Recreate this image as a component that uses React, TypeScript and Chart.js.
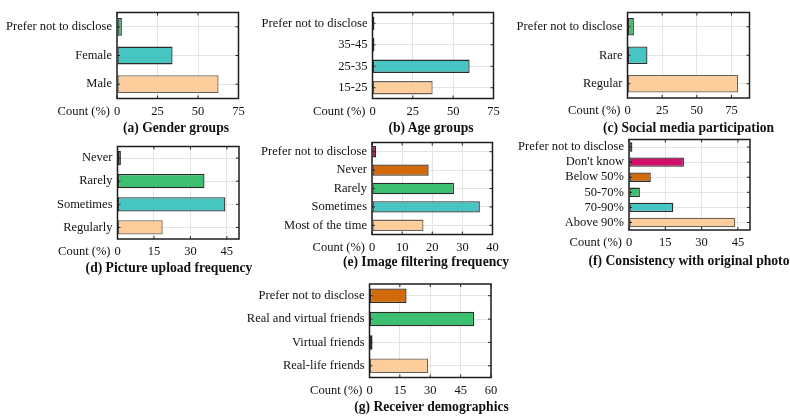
import React, { useEffect, useRef } from 'react';
import { Chart, registerables } from 'chart.js';

Chart.register(...registerables);

// ---------- data ----------
const countLabel = 'Count (%)';

const genderLabels = ['Prefer not to disclose', 'Female', 'Male'];
const genderValues = [3.0, 34.3, 62.7];
const genderTicks = [0, 25, 50, 75];
const genderMax = 75;

const ageLabels = ['Prefer not to disclose', '35-45', '25-35', '15-25'];
const ageValues = [1.2, 1.2, 60.2, 37.3];
const ageTicks = [0, 25, 50, 75];
const ageMax = 75;

const socialLabels = ['Prefer not to disclose', 'Rare', 'Regular'];
const socialValues = [4.6, 14.4, 79.8];
const socialTicks = [0, 25, 50, 75];
const socialMax = 88;

const uploadLabels = ['Never', 'Rarely', 'Sometimes', 'Regularly'];
const uploadValues = [1.4, 35.8, 44.4, 18.6];
const uploadTicks = [0, 15, 30, 45];
const uploadMax = 50;

const filterLabels = ['Prefer not to disclose', 'Never', 'Rarely', 'Sometimes', 'Most of the time'];
const filterValues = [1.4, 18.8, 27.2, 35.8, 17.1];
const filterTicks = [0, 10, 20, 30, 40];
const filterMax = 40;

const consistLabels = ['Prefer not to disclose', "Don't know", 'Below 50%', '50-70%', '70-90%', 'Above 90%'];
const consistValues = [1.4, 22.7, 9.0, 4.5, 18.3, 43.9];
const consistTicks = [0, 15, 30, 45];
const consistMax = 50;

const receiverLabels = ['Prefer not to disclose', 'Real and virtual friends', 'Virtual friends', 'Real-life friends'];
const receiverValues = [18.3, 51.7, 1.5, 29.0];
const receiverTicks = [0, 15, 30, 45, 60];
const receiverMax = 60;

// ---------- styles ----------
const PEACH = '#FDCD9B';
const TEAL = '#46C5C3';
const GREEN = '#3CC06F';
const ORANGE = '#D06A0B';
const MAGENTA = '#D0106B';

const FONT = '"Liberation Serif", "Times New Roman", serif';
const TICK_SIZE = 12.5;

type PanelDef = {
  title: string;
  labels: string[];
  values: number[];
  ticks: number[];
  max: number;
  colors: string[];
  rect: { l: number; t: number; r: number; b: number };
  titlePos: { x: number; y: number };
};

const panels: PanelDef[] = [
  {
    title: '(a) Gender groups', labels: genderLabels, values: genderValues, ticks: genderTicks, max: genderMax,
    colors: [GREEN, TEAL, PEACH],
    rect: { l: 117, t: 5, r: 238.5, b: 98.5 }, titlePos: { x: 176, y: 128 },
  },
  {
    title: '(b) Age groups', labels: ageLabels, values: ageValues, ticks: ageTicks, max: ageMax,
    colors: [ORANGE, GREEN, TEAL, PEACH],
    rect: { l: 372.5, t: 5, r: 493.5, b: 98.5 }, titlePos: { x: 431, y: 128 },
  },
  {
    title: '(c) Social media participation', labels: socialLabels, values: socialValues, ticks: socialTicks, max: socialMax,
    colors: [GREEN, TEAL, PEACH],
    rect: { l: 627.5, t: 5, r: 749.5, b: 98 }, titlePos: { x: 688.5, y: 128 },
  },
  {
    title: '(d) Picture upload frequency', labels: uploadLabels, values: uploadValues, ticks: uploadTicks, max: uploadMax,
    colors: [ORANGE, GREEN, TEAL, PEACH],
    rect: { l: 117.5, t: 146.5, r: 239, b: 239 }, titlePos: { x: 169, y: 268 },
  },
  {
    title: '(e) Image filtering frequency', labels: filterLabels, values: filterValues, ticks: filterTicks, max: filterMax,
    colors: [MAGENTA, ORANGE, GREEN, TEAL, PEACH],
    rect: { l: 372, t: 142.5, r: 492.5, b: 234.5 }, titlePos: { x: 426, y: 262 },
  },
  {
    title: '(f) Consistency with original photo', labels: consistLabels, values: consistValues, ticks: consistTicks, max: consistMax,
    colors: [GREEN, MAGENTA, ORANGE, GREEN, TEAL, PEACH],
    rect: { l: 629, t: 139.5, r: 750, b: 230 }, titlePos: { x: 689, y: 261 },
  },
  {
    title: '(g) Receiver demographics', labels: receiverLabels, values: receiverValues, ticks: receiverTicks, max: receiverMax,
    colors: [ORANGE, GREEN, TEAL, PEACH],
    rect: { l: 369.5, t: 284, r: 491, b: 377.5 }, titlePos: { x: 431.5, y: 407 },
  },
];

const W = 790;
const H = 418;

const framePlugin = {
  id: 'frame',
  afterDraw(chart: any) {
    const { ctx, chartArea: a, scales } = chart;
    const xs = scales.x;
    const ys = scales.y;
    ctx.save();
    ctx.strokeStyle = '#262626';
    ctx.lineWidth = 1;
    const tl = 3;
    xs.ticks.forEach((t: any) => {
      const x = xs.getPixelForValue(t.value);
      ctx.beginPath();
      ctx.moveTo(x, a.bottom);
      ctx.lineTo(x, a.bottom - tl);
      ctx.moveTo(x, a.top);
      ctx.lineTo(x, a.top + tl);
      ctx.stroke();
    });
    ys.ticks.forEach((_t: any, i: number) => {
      const y = ys.getPixelForTick(i);
      ctx.beginPath();
      ctx.moveTo(a.left, y);
      ctx.lineTo(a.left + tl, y);
      ctx.moveTo(a.right, y);
      ctx.lineTo(a.right - tl, y);
      ctx.stroke();
    });
    ctx.lineWidth = 1.5;
    ctx.strokeStyle = '#1e1e1e';
    ctx.strokeRect(a.left, a.top, a.right - a.left, a.bottom - a.top);
    ctx.font = `${TICK_SIZE}px ${FONT}`;
    ctx.fillStyle = '#111';
    ctx.textAlign = 'right';
    ctx.textBaseline = 'middle';
    ctx.fillText(countLabel, a.left - 7, a.bottom + 12.8);
    ctx.restore();
  },
};

function Panel({ def }: { def: PanelDef }) {
  const ref = useRef<HTMLCanvasElement | null>(null);
  useEffect(() => {
    if (!ref.current) return;
    const { rect } = def;
    const chart = new Chart(ref.current, {
      type: 'bar',
      data: {
        labels: def.labels,
        datasets: [
          {
            data: def.values,
            backgroundColor: def.colors,
            borderColor: def.colors.map((c) => (c === PEACH ? '#6b6256' : '#2b2b2b')),
            borderWidth: 1.3,
            borderSkipped: false,
            categoryPercentage: 1,
            barPercentage: 0.62,
          },
        ],
      },
      options: {
        indexAxis: 'y',
        responsive: false,
        animation: false,
        events: [],
        devicePixelRatio: 1,
        layout: { padding: { left: 0, top: rect.t, right: W - rect.r, bottom: 0 } },
        plugins: { legend: { display: false }, tooltip: { enabled: false }, title: { display: false } },
        scales: {
          x: {
            type: 'linear',
            min: 0,
            max: def.max,
            afterBuildTicks: (s: any) => {
              s.ticks = def.ticks.map((v) => ({ value: v }));
            },
            afterFit: (s: any) => {
              s.height = H - rect.b;
            },
            grid: { color: '#e4e4e4', lineWidth: 1, drawTicks: false },
            border: { display: false },
            ticks: { font: { family: FONT, size: TICK_SIZE }, color: '#111', padding: 5.5, maxRotation: 0 },
          },
          y: {
            type: 'category',
            offset: true,
            afterFit: (s: any) => {
              s.width = rect.l;
            },
            grid: { color: '#e4e4e4', lineWidth: 1, drawTicks: false, offset: false },
            border: { display: false },
            ticks: { font: { family: FONT, size: TICK_SIZE }, color: '#111', padding: 5, autoSkip: false },
          },
        },
      },
      plugins: [framePlugin],
    });
    return () => chart.destroy();
  }, [def]);
  return (
    <canvas
      ref={ref}
      width={W}
      height={H}
      style={{ position: 'absolute', left: 0, top: 0, width: W, height: H, pointerEvents: 'none' }}
    />
  );
}

export default function App() {
  return (
    <div style={{ position: 'fixed', left: 0, top: 0, width: W, height: H, background: '#fff', overflow: 'hidden' }}>
      {panels.map((p) => (
        <Panel key={p.title} def={p} />
      ))}
      {panels.map((p) => (
        <div
          key={p.title + '-t'}
          style={{
            position: 'absolute',
            left: p.titlePos.x,
            top: p.titlePos.y,
            transform: 'translate(-50%, -50%)',
            whiteSpace: 'nowrap',
            fontFamily: FONT,
            fontWeight: 'bold',
            fontSize: 13.6,
            color: '#111',
            lineHeight: '16px',
          }}
        >
          {p.title}
        </div>
      ))}
    </div>
  );
}
